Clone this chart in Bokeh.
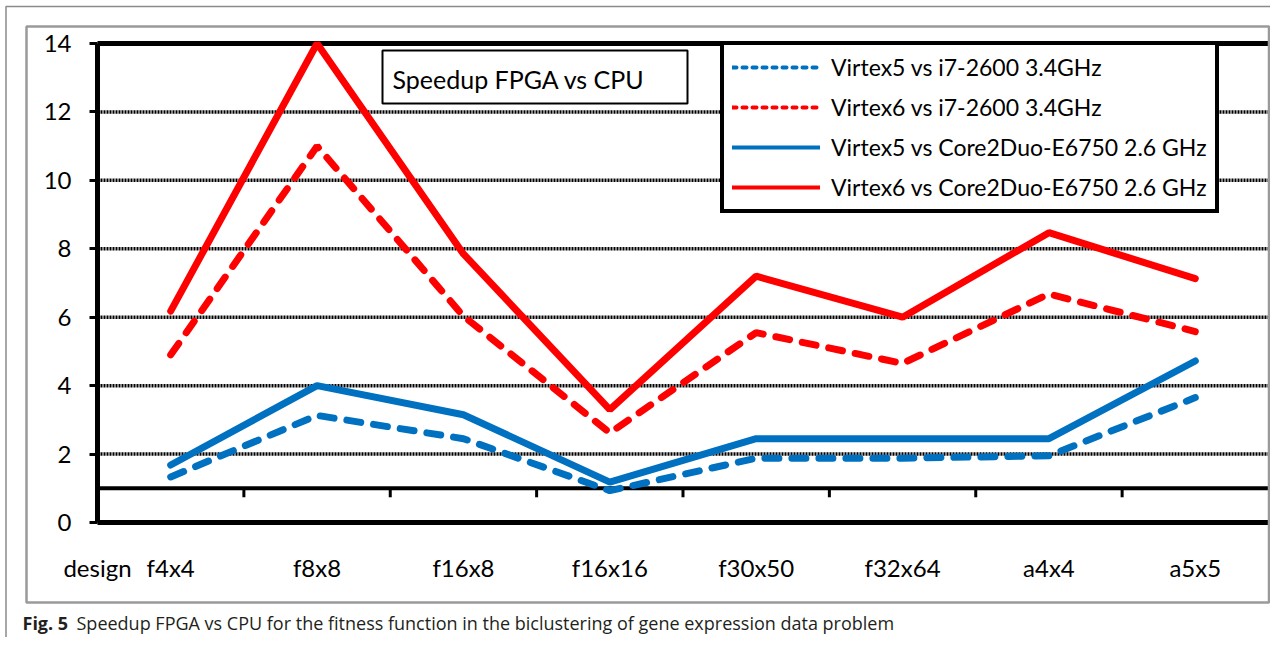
import math
from bokeh.plotting import figure
from bokeh.models import (Range1d, FixedTicker, BoxAnnotation, Label, Legend,
                          LegendItem, LinearAxis)
from bokeh.embed import file_html
from bokeh.resources import INLINE

# ---------------- data ----------------
designs = ["f4x4", "f8x8", "f16x8", "f16x16", "f30x50", "f32x64", "a4x4", "a5x5"]
axis_name = "design"
v5_i7 = [1.33, 3.13, 2.45, 0.93, 1.88, 1.88, 1.95, 3.65]
v6_i7 = [4.90, 11.0, 6.03, 2.62, 5.55, 4.65, 6.68, 5.58]
v5_c2 = [1.68, 4.00, 3.15, 1.18, 2.45, 2.45, 2.45, 4.72]
v6_c2 = [6.18, 14.0, 7.85, 3.30, 7.20, 6.00, 8.47, 7.13]
series_names = ["Virtex5 vs i7-2600 3.4GHz",
                "Virtex6 vs i7-2600 3.4GHz",
                "Virtex5 vs Core2Duo-E6750 2.6 GHz",
                "Virtex6 vs Core2Duo-E6750 2.6 GHz"]
y_ticks = [0, 2, 4, 6, 8, 10, 12, 14]
grid_ticks = [2, 4, 6, 8, 10, 12]
base_line = 1
title_text = "Speedup FPGA vs CPU"
caption_bold = "Fig. 5"
caption_text = "Speedup FPGA vs CPU for the fitness function in the biclustering of gene expression data problem"

# ---------------- layout (canvas pixels) ----------------
W, H = 1270, 637
PL, PR, PT, PB = 97, 1268, 43, 522          # plot area
YMAX = 14
n = len(designs)
x0, x1 = -0.5, n - 0.5
sx = (PR - PL) / (x1 - x0)
sy = (PB - PT) / YMAX
xr = Range1d(x0 - PL / sx, x1 + (W - PR) / sx)
yr = Range1d(-(H - PB) / sy, YMAX + PT / sy)


def dx(px):
    return x0 + (px - PL) / sx


def dy(py):
    return (PB - py) / sy


BLUE = "#0070C0"
RED = "#FF0000"
FONT = "Lato"

p = figure(width=W, height=H, output_backend="svg", toolbar_location=None,
           x_range=xr, y_range=yr, x_axis_type=None, y_axis_type=None,
           min_border=0)
p.min_border_left = p.min_border_right = p.min_border_top = p.min_border_bottom = 0
p.background_fill_color = "white"
p.border_fill_color = "white"
p.outline_line_color = None

# gridlines (dotted), top line, base line with separator ticks
ng = len(grid_ticks)
p.segment(x0=[x0] * ng, x1=[x1] * ng, y0=grid_ticks, y1=grid_ticks,
          line_color="black", line_width=3.5, line_dash="2 1")
p.segment(x0=[x0], x1=[x1], y0=[YMAX], y1=[YMAX], line_color="black", line_width=5)
p.segment(x0=[x0], x1=[x1], y0=[base_line], y1=[base_line], line_color="black", line_width=4)
tick_len = 9 / sy
sep = [i + 0.5 for i in range(n - 1)]
p.segment(x0=sep, x1=sep, y0=[base_line] * len(sep), y1=[base_line - tick_len] * len(sep),
          line_color="black", line_width=3)

# axes
yax = LinearAxis(fixed_location=x0, bounds=(0, YMAX), ticker=FixedTicker(ticks=y_ticks),
                 axis_line_width=5, axis_line_color="black",
                 major_tick_out=8, major_tick_in=0, major_tick_line_width=3,
                 major_tick_line_color="black", minor_tick_line_color=None,
                 major_label_text_font=FONT, major_label_text_font_size="24px",
                 major_label_text_color="black", major_label_standoff=18)
p.add_layout(yax, "left")

xt = [x0] + list(range(n))
overrides = {x0: axis_name}
overrides.update({i: d for i, d in enumerate(designs)})
xax = LinearAxis(fixed_location=0, bounds=(x0, x1), ticker=FixedTicker(ticks=xt),
                 major_label_overrides=overrides,
                 axis_line_width=5, axis_line_color="black",
                 major_tick_line_color=None, minor_tick_line_color=None,
                 major_tick_out=0, major_tick_in=0,
                 major_label_text_font=FONT, major_label_text_font_size="24px",
                 major_label_text_color="black", major_label_standoff=30)
p.add_layout(xax, "below")

# data lines
xs = list(range(n))
specs = [(v5_i7, BLUE, "14 13"), (v6_i7, RED, "14 13"), (v5_c2, BLUE, "solid"), (v6_c2, RED, "solid")]
leg_dash = {"14 13": "4 6", "solid": "solid"}
items = []
for (vals, col, dash), name in zip(specs, series_names):
    p.line(xs, vals, line_color=col, line_width=7, line_dash=dash, line_cap="round")
    dummy = p.line([math.nan], [math.nan], line_color=col, line_width=4,
                   line_dash=leg_dash[dash], line_cap="round")
    items.append(LegendItem(label=name, renderers=[dummy]))

legend = Legend(items=items, location=(720, H - 213), margin=0,
                padding=8, spacing=12, label_height=28, glyph_height=28,
                glyph_width=88, label_standoff=11,
                label_text_font=FONT, label_text_font_size="23px", label_text_color="black",
                border_line_color="black", border_line_width=4, border_line_alpha=1,
                background_fill_color="white", background_fill_alpha=1)
p.add_layout(legend)

# title box
p.add_layout(BoxAnnotation(left=dx(382), right=dx(687), top=dy(50), bottom=dy(103),
                           fill_color="white", fill_alpha=1, line_color="black",
                           line_alpha=1, line_width=2))
p.add_layout(Label(x=dx(392), y=dy(78), text=title_text, text_font=FONT,
                   text_font_size="25px", text_baseline="middle", text_color="black"))

# chart frame (grey) and outer panel border
p.add_layout(BoxAnnotation(left=dx(26), right=dx(1268.5), top=dy(26), bottom=dy(602),
                           fill_alpha=0, line_color="#9a9a9a", line_alpha=1, line_width=2.5))
p.add_layout(BoxAnnotation(left=dx(5.5), right=dx(1500), top=dy(6), bottom=dy(1000),
                           fill_alpha=0, line_color="#8a8a8a", line_alpha=1, line_width=1.5))

# caption
p.add_layout(Label(x=dx(22), y=dy(622), text=caption_bold, text_font="Open Sans",
                   text_font_style="bold", text_font_size="18px", text_baseline="middle",
                   text_color="#231f20"))
p.add_layout(Label(x=dx(76), y=dy(622), text=caption_text, text_font="Open Sans",
                   text_font_size="18px", text_baseline="middle", text_color="#231f20"))

open("out.html", "w").write(file_html(p, INLINE))
